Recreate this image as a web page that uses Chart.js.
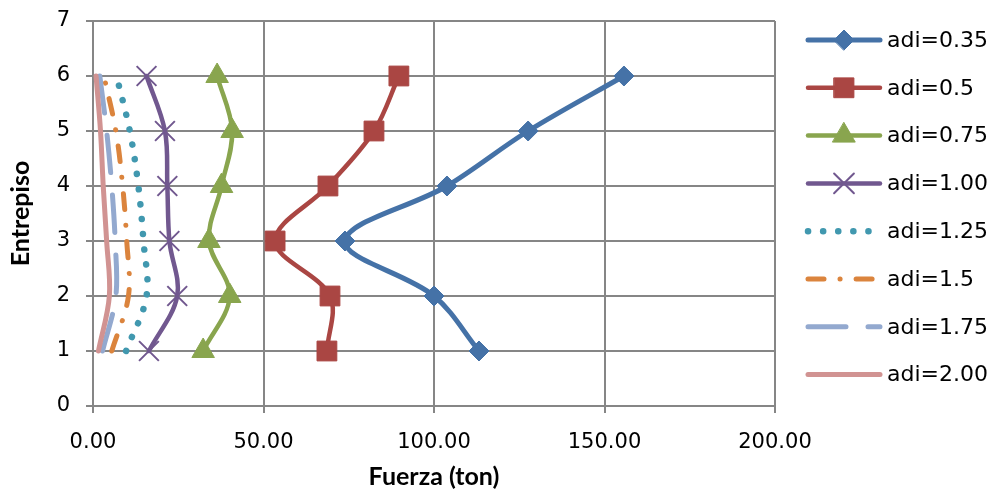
<!DOCTYPE html>
<html>
<head>
<meta charset="utf-8">
<script src="https://cdn.jsdelivr.net/npm/chart.js@4/dist/chart.umd.min.js"></script>
<style>
    html, body { margin: 0; padding: 0; background: #ffffff; }
    #wrap { width: 998px; height: 492px; position: relative; }
</style>
</head>
<body>
<div id="wrap"><canvas id="chart"></canvas></div>
<script>
// Entrepiso levels (y) and storey forces (x, ton) per adi value
const pisos = [1, 2, 3, 4, 5, 6];
const seriesLabels = ['adi=0.35', 'adi=0.5', 'adi=0.75', 'adi=1.00', 'adi=1.25', 'adi=1.5', 'adi=1.75', 'adi=2.00'];
const fuerza035 = [113.2, 100.0, 73.9, 103.8, 127.6, 155.7];
const fuerza050 = [68.6, 69.5, 53.4, 68.9, 82.4, 89.7];
const fuerza075 = [32.3, 40.1, 34.0, 37.7, 40.8, 36.4];
const fuerza100 = [16.4, 24.7, 22.4, 21.8, 21.1, 15.7];
const fuerza125 = [9.7, 15.7, 14.8, 13.3, 10.8, 6.9];
const fuerza150 = [5.5, 10.4, 9.9, 8.7, 6.7, 3.2];
const fuerza175 = [2.8, 6.7, 6.5, 5.5, 4.0, 2.0];
const fuerza200 = [1.6, 4.8, 4.0, 3.0, 2.2, 0.9];
const xTicks = [0, 50, 100, 150, 200];
const yTicks = [0, 1, 2, 3, 4, 5, 6, 7];

const allValues = [fuerza035, fuerza050, fuerza075, fuerza100, fuerza125, fuerza150, fuerza175, fuerza200];

// Office 2007 palette + per-series styling
const styles = [
    { color: '#4572A7', width: 5, point: 'rectRot', radius: 10, dash: [] },
    { color: '#AA4643', width: 4.5, point: 'rect', radius: 14, dash: [] },
    { color: '#89A54E', width: 4.5, point: 'triangle', radius: 13, dash: [] },
    { color: '#71588F', width: 4.5, point: 'crossRot', radius: 14, dash: [], pointWidth: 2 },
    { color: '#4198AF', width: 6.5, point: false, radius: 0, dash: [0.1, 15] },
    { color: '#DB843D', width: 5, point: false, radius: 0, dash: [16, 16, 0.1, 16] },
    { color: '#93A9CF', width: 5, point: false, radius: 0, dash: [38, 22] },
    { color: '#D19392', width: 5, point: false, radius: 0, dash: [] }
];

const datasets = allValues.map((vals, i) => {
    const s = styles[i];
    return {
        label: seriesLabels[i],
        data: vals.map((v, k) => ({ x: v, y: pisos[k] })),
        showLine: true,
        borderColor: s.color,
        backgroundColor: s.color,
        borderWidth: s.width,
        borderDash: s.dash,
        borderCapStyle: 'round',
        borderJoinStyle: 'round',
        pointStyle: s.point || 'circle',
        pointRadius: s.radius,
        pointHoverRadius: s.radius,
        pointBorderColor: s.color,
        pointBackgroundColor: s.color,
        pointBorderWidth: s.pointWidth || 1,
        tension: 0.35,
        order: allValues.length - i
    };
});

// legend drawn by hand: line sample + marker + text, like Excel
const sideLegend = {
    id: 'sideLegend',
    afterDraw(chart) {
        const ctx = chart.ctx;
        const area = chart.chartArea;
        const x0 = area.right + 33;
        const x1 = area.right + 105;
        const xt = area.right + 112;
        chart.data.datasets.forEach((ds, i) => {
            const y = area.top + 19 + i * 47.8;
            ctx.save();
            ctx.strokeStyle = ds.borderColor;
            ctx.lineWidth = ds.borderWidth;
            ctx.lineCap = 'round';
            ctx.setLineDash(ds.borderDash || []);
            ctx.beginPath();
            ctx.moveTo(x0, y);
            ctx.lineTo(x1, y);
            ctx.stroke();
            ctx.setLineDash([]);
            if (ds.pointRadius > 0) {
                ctx.fillStyle = ds.pointBackgroundColor;
                ctx.strokeStyle = ds.pointBorderColor;
                ctx.lineWidth = ds.pointBorderWidth;
                Chart.helpers.drawPoint(ctx, {
                    pointStyle: ds.pointStyle,
                    radius: ds.pointRadius,
                    rotation: 0,
                    borderWidth: ds.pointBorderWidth
                }, (x0 + x1) / 2, y);
            }
            ctx.fillStyle = '#000000';
            ctx.font = '22px "DejaVu Sans"';
            ctx.textBaseline = 'middle';
            ctx.textAlign = 'left';
            ctx.fillText(ds.label, xt, y + 1);
            ctx.restore();
        });
    }
};

const gridColor = '#868686';

new Chart(document.getElementById('chart').getContext('2d'), {
    type: 'scatter',
    data: { datasets: datasets },
    options: {
        responsive: true,
        maintainAspectRatio: false,
        animation: false,
        layout: { padding: { left: 6, right: 223, top: 21, bottom: 0 } },
        plugins: {
            legend: { display: false },
            tooltip: { enabled: false }
        },
        scales: {
            x: {
                type: 'linear',
                min: xTicks[0],
                max: xTicks[xTicks.length - 1],
                afterBuildTicks: (scale) => { scale.ticks = xTicks.map(v => ({ value: v })); },
                afterFit: (scale) => { scale.height = 86; },
                grid: { color: gridColor, lineWidth: 2, tickLength: 7, drawTicks: true },
                border: { color: gridColor, width: 2 },
                ticks: {
                    color: '#000000',
                    font: { family: 'DejaVu Sans', size: 21 },
                    padding: 17,
                    callback: (v) => Number(v).toFixed(2)
                },
                title: {
                    display: true,
                    text: 'Fuerza (ton)',
                    color: '#000000',
                    font: { family: 'Lato', size: 25, weight: 'bold' },
                    padding: { top: 0, bottom: 0 }
                }
            },
            y: {
                type: 'linear',
                min: yTicks[0],
                max: yTicks[yTicks.length - 1],
                afterBuildTicks: (scale) => { scale.ticks = yTicks.map(v => ({ value: v })); },
                afterFit: (scale) => {
                    scale.width = 87;
                    scale.paddingTop = 0;
                    scale.paddingBottom = 0;
                },
                grid: { color: gridColor, lineWidth: 2, tickLength: 7, drawTicks: true },
                border: { color: gridColor, width: 2 },
                ticks: {
                    color: '#000000',
                    font: { family: 'DejaVu Sans', size: 21 },
                    padding: 16
                },
                title: {
                    display: true,
                    text: 'Entrepiso',
                    color: '#000000',
                    font: { family: 'Lato', size: 25, weight: 'bold' },
                    padding: { top: 0, bottom: 0 }
                }
            }
        }
    },
    plugins: [sideLegend]
});
</script>
</body>
</html>
